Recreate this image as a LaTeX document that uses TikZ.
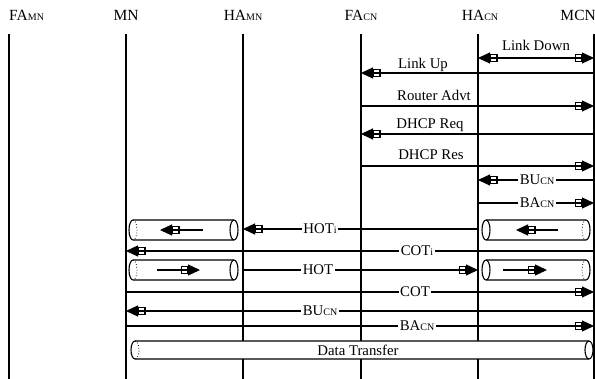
\documentclass[tikz,border=0pt]{standalone}
\usepackage{fontspec}
\setmainfont{Liberation Serif}
\usetikzlibrary{arrows.meta}
\newcommand{\lowcap}[1]{{\fontsize{10}{10}\selectfont #1}}

\begin{document}
\begin{tikzpicture}[x=1pt, y=-1pt,
head/.style={anchor=base, inner sep=0pt, font=\fontsize{15.5}{17}\selectfont},
life/.style={line width=1.8pt},
msg/.style={line width=1.2pt, -{Square[open,length=7.5pt,width=7.5pt,sep=0pt]Triangle[length=12pt,width=11pt]}},
lbl/.style={fill=white, inner sep=1.5pt, font=\fontsize{14.8}{16}\selectfont},
over/.style={anchor=base, inner sep=0pt, font=\fontsize{14.8}{16}\selectfont},
pipe/.style={line width=1.1pt, fill=white},
hidden/.style={dotted, line width=0.8pt}
]
\useasboundingbox (0,0) rectangle (595,379);

% lifelines
\coordinate (FAmn) at (9,34);
\coordinate (MN) at (126,34);
\coordinate (HAmn) at (243,34);
\coordinate (FAcn) at (361,34);
\coordinate (HAcn) at (478,34);
\coordinate (MCN) at (594,34);

\node[head, anchor=base west] (famn-lbl) at (9,21) {FA\lowcap{MN}};
\node[head] (mn-lbl) at (126,21) {MN};
\node[head] (hamn-lbl) at (243,21) {HA\lowcap{MN}};
\node[head] (facn-lbl) at (361,21) {FA\lowcap{CN}};
\node[head] (hacn-lbl) at (480,21) {HA\lowcap{CN}};
\node[head, anchor=base east] (mcn-lbl) at (596,21) {MCN};

\foreach \n in {FAmn,MN,HAmn,FAcn,HAcn,MCN}
  \draw[life] (\n) -- (\n |- 0,379);

% movement detection and new address
\coordinate (ld) at (536,58);
\draw[msg] (ld) -- (HAcn |- ld);
\draw[msg] (ld) -- (MCN |- ld);
\node[over] (linkdown) at (536,51) {Link Down};

\draw[msg] (MCN |- 0,73) -- (FAcn |- 0,73);
\node[over] (linkup) at (423,69) {Link Up};
\draw[msg] (FAcn |- 0,106) -- (MCN |- 0,106);
\node[over] (advt) at (434,101) {Router Advt};
\draw[msg] (MCN |- 0,134) -- (FAcn |- 0,134);
\node[over] (dhcpreq) at (430,129) {DHCP Req};
\draw[msg] (FAcn |- 0,166) -- (MCN |- 0,166);
\node[over] (dhcpres) at (431,160) {DHCP Res};

\draw[msg] (MCN |- 0,180) -- (HAcn |- 0,180);
\node[lbl] (bucn1) at (537,180) {BU\lowcap{CN}};
\draw[msg] (HAcn |- 0,203) -- (MCN |- 0,203);
\node[lbl] (bacn1) at (537,203) {BA\lowcap{CN}};

% tunnels
\foreach \y in {230,270} {
  \draw[pipe] (133,\y-10) -- (234,\y-10) arc[start angle=-90,end angle=90,x radius=4,y radius=10]
    -- (133,\y+10) arc[start angle=90,end angle=270,x radius=4,y radius=10] -- cycle;
  \draw[line width=1.1pt] (234,\y-10) arc[start angle=-90,end angle=-270,x radius=4,y radius=10];
  \draw[hidden] (133,\y-10) arc[start angle=-90,end angle=90,x radius=4,y radius=10];
  \draw[pipe] (486,\y-10) -- (586,\y-10) arc[start angle=-90,end angle=90,x radius=4,y radius=10]
    -- (486,\y+10) arc[start angle=90,end angle=270,x radius=4,y radius=10] -- cycle;
  \draw[line width=1.1pt] (486,\y-10) arc[start angle=-90,end angle=90,x radius=4,y radius=10];
  \draw[hidden] (586,\y-10) arc[start angle=-90,end angle=-270,x radius=4,y radius=10];
}
\draw[msg] (203,230) -- (160,230);
\draw[msg] (157,270) -- (200,270);
\draw[msg] (558,230) -- (516,230);
\draw[msg] (503,270) -- (547,270);

% return routability and binding
\draw[msg] (HAcn |- 0,229) -- (HAmn |- 0,229);
\node[lbl] (hoti) at (320,229) {HOT\lowcap{i}};
\draw[msg] (MCN |- 0,251) -- (MN |- 0,251);
\node[lbl] (coti) at (417,251) {COT\lowcap{i}};
\draw[msg] (HAmn |- 0,270) -- (HAcn |- 0,270);
\node[lbl] (hot) at (318,270) {HOT};
\draw[msg] (MN |- 0,292) -- (MCN |- 0,292);
\node[lbl] (cot) at (415,292) {COT};
\draw[msg] (MCN |- 0,311) -- (MN |- 0,311);
\node[lbl] (bucn2) at (320,311) {BU\lowcap{CN}};
\draw[msg] (MN |- 0,326) -- (MCN |- 0,326);
\node[lbl] (bacn2) at (417,326) {BA\lowcap{CN}};

% data
\draw[pipe] (135,341) -- (589,341) arc[start angle=-90,end angle=90,x radius=4,y radius=9]
  -- (135,359) arc[start angle=90,end angle=270,x radius=4,y radius=9] -- cycle;
\draw[line width=1.1pt] (589,341) arc[start angle=-90,end angle=-270,x radius=4,y radius=9];
\draw[hidden] (135,341) arc[start angle=-90,end angle=90,x radius=4,y radius=9];
\node[font=\fontsize{14.8}{16}\selectfont] (data) at (358,350) {Data Transfer};
\end{tikzpicture}
\end{document}
